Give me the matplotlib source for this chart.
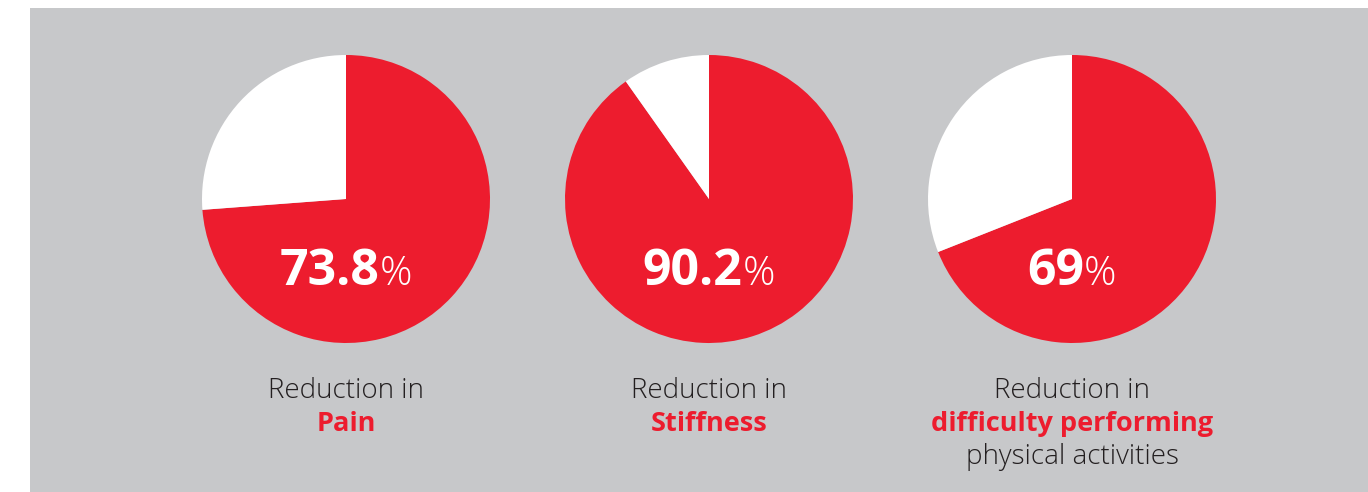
import matplotlib
matplotlib.use("Agg")
import matplotlib.pyplot as plt
from matplotlib.patches import Rectangle

# Data
values = [73.8, 90.2, 69]
value_labels = ["73.8", "90.2", "69"]
line1 = ["Reduction in", "Reduction in", "Reduction in"]
highlight = ["Pain", "Stiffness", "difficulty performing"]
line3 = ["", "", "physical activities"]

RED = "#ED1C2E"
GRAY = "#C7C8CA"
DARK = "#231F20"
W, H = 1368, 492

fig = plt.figure(figsize=(W / 100, H / 100), dpi=100)
fig.patch.set_facecolor("white")
ax = fig.add_axes([0, 0, 1, 1])

def Y(ypx):
    return H - ypx

ax.add_patch(Rectangle((30, 0), W - 30, H - 8, facecolor=GRAY, edgecolor="none", zorder=0))

centers_x = [346, 709, 1072]
cy = 199
radius = 144
for cx, v in zip(centers_x, values):
    wedges, _ = ax.pie([v, 100 - v], colors=[RED, "white"], startangle=90,
                       counterclock=False, center=(cx, Y(cy)), radius=radius,
                       wedgeprops=dict(linewidth=0), frame=True)
    for w in wedges:
        w.set_zorder(2)

ax.set_xlim(0, W)
ax.set_ylim(0, H)
ax.set_aspect("equal")
ax.axis("off")

fig.canvas.draw()
renderer = fig.canvas.get_renderer()

num_font = dict(family=["Open Sans", "DejaVu Sans"], weight="bold", size=36)
pct_font = dict(family=["Open Sans", "DejaVu Sans"], weight="light", size=29)
body_font = dict(family=["Open Sans", "DejaVu Sans"], weight="light", size=20)
hl_font = dict(family=["Open Sans", "DejaVu Sans"], weight="bold", size=19.5)

def text_width(t):
    bb = t.get_window_extent(renderer=renderer)
    return bb.width

for cx, lab, l1, hl, l3 in zip(centers_x, value_labels, line1, highlight, line3):
    t1 = ax.text(0, Y(285), lab, color="white", ha="left", va="baseline", zorder=5, **num_font)
    t2 = ax.text(0, Y(285), "%", color="white", ha="left", va="baseline", zorder=5, **pct_font)
    w1 = text_width(t1)
    w2 = text_width(t2)
    gap = 0
    total = w1 + gap + w2
    x0 = cx - total / 2
    t1.set_x(x0)
    t2.set_x(x0 + w1 + gap)
    ax.text(cx, Y(391), l1, color=DARK, ha="center", va="center", zorder=5, **body_font)
    ax.text(cx, Y(424), hl, color=RED, ha="center", va="center", zorder=5, **hl_font)
    if l3:
        ax.text(cx, Y(457), l3, color=DARK, ha="center", va="center", zorder=5, **body_font)

fig.savefig("out.png", dpi=100, facecolor="white")
